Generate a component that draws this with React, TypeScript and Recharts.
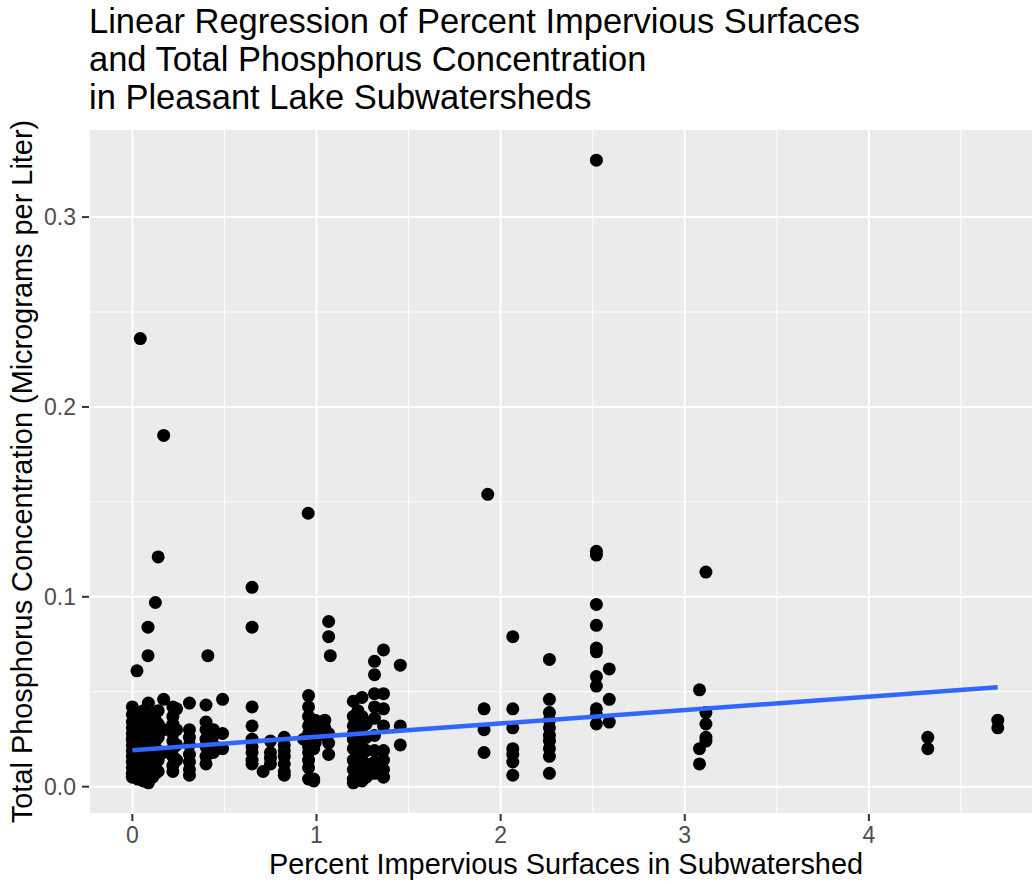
import React from "react"
import {
  ScatterChart,
  Scatter,
  XAxis,
  YAxis,
  CartesianGrid,
  Label,
} from "recharts"

// [percent impervious, total phosphorus]
const nearZero: [number, number][] = [
  [0.0, 0.042], [0.0, 0.038], [0.0, 0.034], [0.0, 0.031], [0.0, 0.028], [0.0, 0.025],
  [0.0, 0.022], [0.0, 0.019], [0.0, 0.016], [0.0, 0.013], [0.0, 0.01], [0.0, 0.007], [0.0, 0.005],
  [0.025, 0.061], [0.03, 0.039], [0.03, 0.035], [0.03, 0.03], [0.03, 0.027], [0.03, 0.024],
  [0.03, 0.02], [0.03, 0.017], [0.03, 0.014], [0.03, 0.011], [0.03, 0.008], [0.03, 0.004],
  [0.043, 0.236], [0.045, 0.036], [0.045, 0.033], [0.045, 0.029], [0.045, 0.026], [0.045, 0.021],
  [0.045, 0.018], [0.045, 0.015], [0.045, 0.012], [0.045, 0.009], [0.045, 0.006],
  [0.06, 0.04], [0.06, 0.034], [0.06, 0.03], [0.06, 0.025], [0.06, 0.022], [0.06, 0.019],
  [0.06, 0.014], [0.06, 0.01], [0.06, 0.006], [0.06, 0.003],
  [0.085, 0.084], [0.085, 0.069], [0.087, 0.044], [0.087, 0.038], [0.087, 0.032], [0.087, 0.027],
  [0.087, 0.023], [0.087, 0.02], [0.087, 0.016], [0.087, 0.012], [0.087, 0.008], [0.087, 0.004], [0.087, 0.002],
  [0.11, 0.036], [0.11, 0.03], [0.11, 0.026], [0.11, 0.021], [0.11, 0.017], [0.11, 0.013], [0.11, 0.009], [0.11, 0.005],
  [0.125, 0.097], [0.125, 0.035], [0.125, 0.028], [0.125, 0.024], [0.125, 0.015], [0.125, 0.011], [0.125, 0.007],
  [0.14, 0.121], [0.14, 0.04], [0.14, 0.033], [0.14, 0.026], [0.14, 0.019], [0.14, 0.014], [0.14, 0.008],
  [0.17, 0.185], [0.17, 0.046], [0.17, 0.03], [0.17, 0.018],
  [0.22, 0.042], [0.22, 0.037], [0.22, 0.033], [0.22, 0.028], [0.22, 0.024], [0.22, 0.02],
  [0.22, 0.016], [0.22, 0.011], [0.22, 0.008],
  [0.24, 0.041], [0.24, 0.03], [0.24, 0.022], [0.24, 0.014],
  [0.31, 0.044], [0.31, 0.03], [0.31, 0.026], [0.31, 0.022], [0.31, 0.017], [0.31, 0.013], [0.31, 0.009], [0.31, 0.006],
  [0.41, 0.069], [0.4, 0.043], [0.4, 0.034], [0.4, 0.03], [0.4, 0.025], [0.4, 0.021], [0.4, 0.016], [0.4, 0.012],
  [0.44, 0.03], [0.44, 0.027], [0.44, 0.022], [0.44, 0.018],
  [0.49, 0.046], [0.49, 0.028], [0.49, 0.02],
]

const nearOne: [number, number][] = [
  [0.65, 0.105], [0.65, 0.084], [0.65, 0.042], [0.65, 0.032], [0.65, 0.025], [0.65, 0.021],
  [0.65, 0.018], [0.65, 0.014], [0.65, 0.012],
  [0.71, 0.008],
  [0.75, 0.024], [0.75, 0.018], [0.75, 0.015], [0.75, 0.012],
  [0.825, 0.026], [0.825, 0.022], [0.825, 0.019], [0.825, 0.016], [0.825, 0.012], [0.825, 0.008], [0.825, 0.006],
  [0.955, 0.144], [0.957, 0.048], [0.957, 0.042], [0.957, 0.037], [0.957, 0.032], [0.957, 0.028],
  [0.957, 0.024], [0.957, 0.021], [0.957, 0.018], [0.957, 0.014], [0.957, 0.01], [0.957, 0.004],
  [0.93, 0.025],
  [0.985, 0.003], [0.985, 0.004], [0.985, 0.03], [0.985, 0.02],
  [0.993, 0.035], [0.993, 0.031], [0.993, 0.028], [0.993, 0.023], [0.993, 0.026],
  [1.045, 0.035], [1.045, 0.031], [1.045, 0.027],
  [1.066, 0.087], [1.066, 0.079], [1.075, 0.069], [1.066, 0.028], [1.066, 0.023], [1.066, 0.017],
]

const nearOneQuarter: [number, number][] = [
  [1.2, 0.045], [1.2, 0.037], [1.2, 0.032], [1.2, 0.028], [1.2, 0.025], [1.2, 0.02],
  [1.2, 0.014], [1.2, 0.009], [1.2, 0.004], [1.2, 0.002],
  [1.225, 0.04], [1.225, 0.034], [1.225, 0.03], [1.225, 0.022], [1.225, 0.017], [1.225, 0.011], [1.225, 0.006],
  [1.247, 0.047], [1.247, 0.037], [1.247, 0.028], [1.247, 0.021], [1.247, 0.014], [1.247, 0.007], [1.247, 0.003],
  [1.27, 0.033], [1.27, 0.026], [1.27, 0.019], [1.27, 0.012], [1.27, 0.008], [1.27, 0.005],
  [1.315, 0.066], [1.315, 0.059], [1.315, 0.049], [1.315, 0.042], [1.315, 0.036], [1.315, 0.027],
  [1.315, 0.019], [1.315, 0.013], [1.315, 0.007],
  [1.364, 0.072], [1.364, 0.049], [1.364, 0.041], [1.364, 0.032], [1.364, 0.019], [1.364, 0.014],
  [1.364, 0.009], [1.364, 0.005],
  [1.455, 0.064], [1.455, 0.032], [1.455, 0.022],
]

const nearTwo: [number, number][] = [
  [1.93, 0.154], [1.91, 0.041], [1.91, 0.03], [1.91, 0.018],
  [2.066, 0.079], [2.066, 0.041], [2.066, 0.031], [2.066, 0.02], [2.066, 0.017], [2.066, 0.013], [2.066, 0.006],
  [2.265, 0.067], [2.265, 0.046], [2.265, 0.039], [2.265, 0.035], [2.265, 0.031], [2.265, 0.027],
  [2.265, 0.024], [2.265, 0.02], [2.265, 0.016], [2.265, 0.007],
]

const nearTwoHalf: [number, number][] = [
  [2.52, 0.33], [2.52, 0.124], [2.52, 0.122], [2.52, 0.096], [2.52, 0.085], [2.52, 0.073],
  [2.52, 0.071], [2.52, 0.058], [2.52, 0.053], [2.52, 0.041], [2.52, 0.038], [2.52, 0.033],
  [2.59, 0.062], [2.59, 0.046], [2.59, 0.034],
]

const upperRange: [number, number][] = [
  [3.115, 0.113], [3.115, 0.039], [3.115, 0.033], [3.115, 0.026], [3.115, 0.024],
  [3.08, 0.051], [3.08, 0.02], [3.08, 0.012],
  [4.32, 0.026], [4.32, 0.02],
  [4.7, 0.035], [4.7, 0.031],
]

// lm fit endpoints
const fitLine = [
  { x: 0, y: 0.0192 },
  { x: 4.7, y: 0.0523 },
]

const xTicks = [0, 1, 2, 3, 4]
const xMinor = [0.5, 1.5, 2.5, 3.5, 4.5]
const yTicks = [0, 0.1, 0.2, 0.3]
const yMinor = [0.05, 0.15, 0.25]
const xDomain: [number, number] = [-0.2355, 4.9455]
const yDomain: [number, number] = [-0.0144, 0.3464]

const points = [
  ...nearZero,
  ...nearOne,
  ...nearOneQuarter,
  ...nearTwo,
  ...nearTwoHalf,
  ...upperRange,
].map(([x, y]) => ({ x, y }))

const font = "'Liberation Sans', Arial, Helvetica, sans-serif"

function Dot(props: { cx?: number; cy?: number }) {
  if (props.cx == null || props.cy == null) return null
  return <circle cx={props.cx} cy={props.cy} r={6.5} fill="#000" />
}

export default function App() {
  return (
    <div
      style={{
        position: "absolute",
        left: 0,
        top: 0,
        width: 1032,
        height: 884,
        overflow: "hidden",
        background: "#fff",
        fontFamily: font,
      }}
    >
      <div
        style={{
          position: "absolute",
          left: 89,
          top: 2,
          fontSize: 34.5,
          lineHeight: "38px",
          color: "#000",
          whiteSpace: "pre",
        }}
      >
        {"Linear Regression of Percent Impervious Surfaces\nand Total Phosphorus Concentration\nin Pleasant Lake Subwatersheds"}
      </div>
      <ScatterChart
        width={1050}
        height={884}
        margin={{ top: 129, right: 7, bottom: 0, left: 0 }}
        style={{ fontFamily: font }}
      >
        {/* minor grid on its own hidden axes */}
        <CartesianGrid
          xAxisId="minor"
          yAxisId="minor"
          fill="#EBEBEB"
          stroke="#fff"
          strokeWidth={1}
        />
        <CartesianGrid stroke="#fff" strokeWidth={2} />
        <XAxis
          xAxisId="minor"
          type="number"
          dataKey="x"
          domain={xDomain}
          ticks={xMinor}
          allowDataOverflow
          hide
        />
        <YAxis
          yAxisId="minor"
          type="number"
          dataKey="y"
          domain={yDomain}
          ticks={yMinor}
          allowDataOverflow
          hide
        />
        <XAxis
          type="number"
          dataKey="x"
          domain={xDomain}
          ticks={xTicks}
          allowDataOverflow
          axisLine={false}
          tickSize={7}
          tickMargin={6}
          tickLine={{ stroke: "#333", strokeWidth: 2 }}
          tick={{ fill: "#4D4D4D", fontSize: 23 }}
          height={70}
        >
          <Label
            value="Percent Impervious Surfaces in Subwatershed"
            position="insideBottom"
            offset={10}
            style={{ fontSize: 28.9, fill: "#000" }}
          />
        </XAxis>
        <YAxis
          type="number"
          dataKey="y"
          domain={yDomain}
          ticks={yTicks}
          tickFormatter={(v: number) => v.toFixed(1)}
          allowDataOverflow
          axisLine={false}
          tickSize={7}
          tickMargin={6}
          tickLine={{ stroke: "#333", strokeWidth: 2 }}
          tick={{ fill: "#4D4D4D", fontSize: 23 }}
          width={89}
        >
          <Label
            value="Total Phosphorus Concentration (Micrograms per Liter)"
            angle={-90}
            position="insideLeft"
            offset={22}
            style={{ fontSize: 28.9, fill: "#000", textAnchor: "middle" }}
          />
        </YAxis>
        <Scatter data={points} shape={<Dot />} isAnimationActive={false} />
        <Scatter
          data={fitLine}
          line={{ stroke: "#3366FF", strokeWidth: 4.5 }}
          shape={() => <g />}
          isAnimationActive={false}
        />
      </ScatterChart>
    </div>
  )
}
